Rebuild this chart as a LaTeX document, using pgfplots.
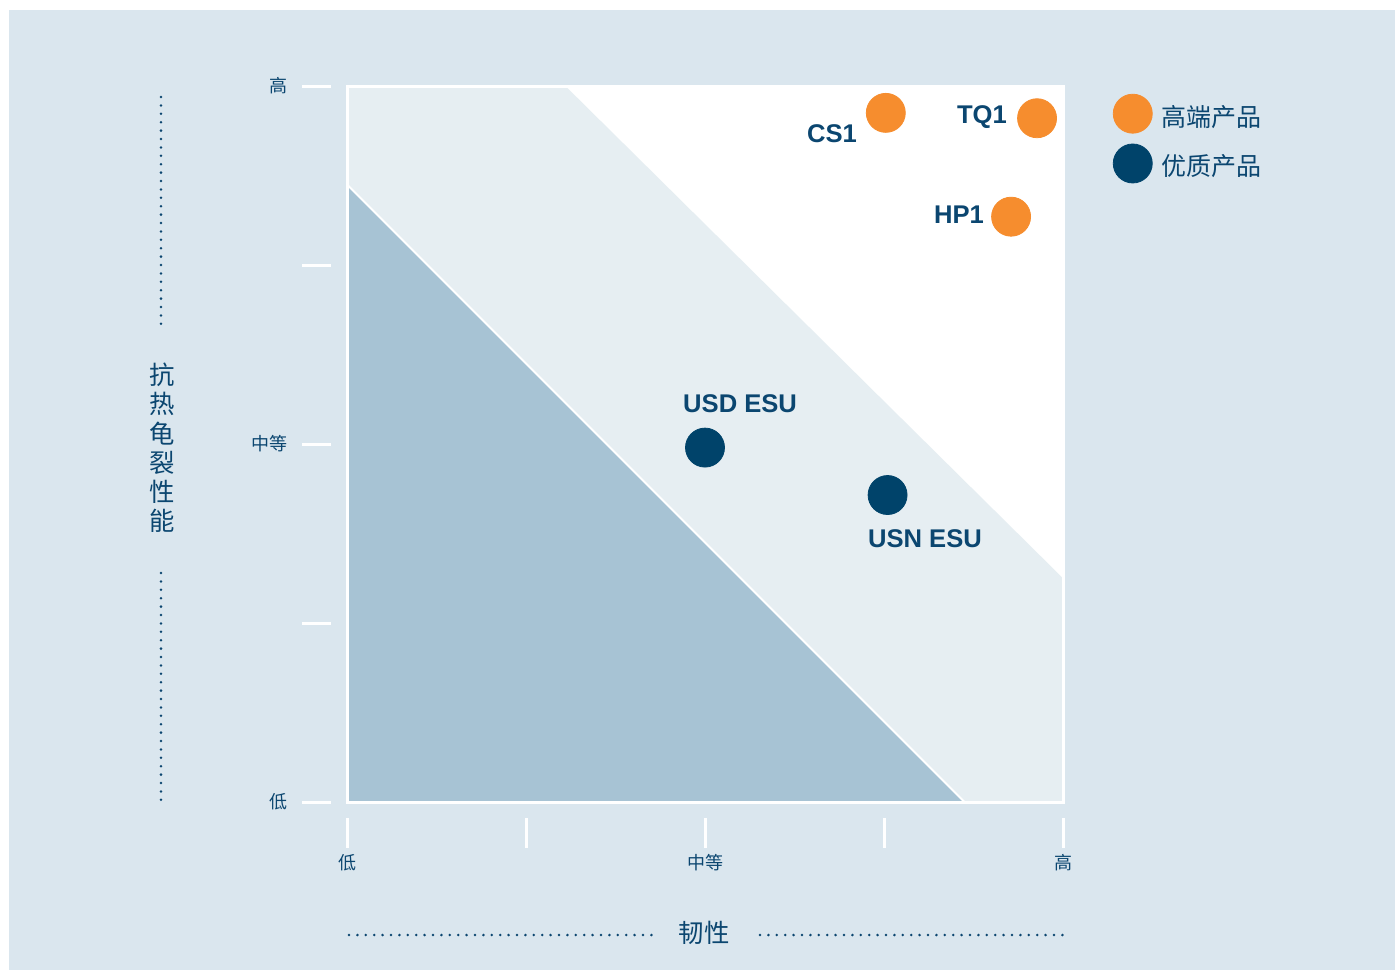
\documentclass[border=0pt]{standalone}
\usepackage{pgfplots}
\pgfplotsset{compat=1.18}
\usepackage{fontspec}
\setmainfont{Liberation Sans}
\newfontfamily\cjk{Noto Sans CJK SC}
\definecolor{bg}{HTML}{DAE6EE}
\definecolor{band}{HTML}{E6EEF2}
\definecolor{dark}{HTML}{A7C3D4}
\definecolor{navy}{HTML}{00436A}
\definecolor{orng}{HTML}{F68D2E}
\definecolor{txt}{HTML}{0B4670}
\begin{document}
\begin{tikzpicture}
\begin{scope}[x=0.5pt,y=-0.5pt]
\fill[white] (0,0) rectangle (1395,970);
\fill[bg] (9,10) rectangle (1395,970);
\begin{scope}[txt, line width=1.4pt, line cap=round, dash pattern=on 0pt off 4.2pt]
\draw (161,97) -- (161,327);
\draw (161,573) -- (161,802);
\draw (349,935) -- (655,935);
\draw (760,935) -- (1064,935);
\end{scope}
\node[txt, font=\cjk\fontsize{12.7}{14.6}\selectfont, align=center, inner sep=0pt] at (162,448) {抗\\热\\龟\\裂\\性\\能};
\node[txt, font=\cjk\fontsize{12.7}{14.6}\selectfont, inner sep=0pt] at (704,933) {韧性};
\end{scope}
\begin{axis}[at={(173.5pt,-401pt)}, anchor=south west, scale only axis,
  width=358pt, height=358pt, xmin=0, xmax=4, ymin=0, ymax=4,
  axis lines=none, clip=false,
  legend style={at={(1.0607,0.9953)}, anchor=north west, draw=none, fill=none,
    font=\cjk\fontsize{12.5}{14}\selectfont, text=txt, row sep=5pt,
    nodes={inner sep=0pt, inner xsep=4.5pt}},
  legend cell align=left]
% regions
\addplot[forget plot, fill=white, draw=none] coordinates {(0,0) (4,0) (4,4) (0,4)} -- cycle;
\addplot[forget plot, fill=band, draw=none] coordinates {(0,0) (4,0) (4,1.25) (1.22,4) (0,4)} -- cycle;
\addplot[forget plot, fill=dark, draw=none] coordinates {(0,0) (3.45,0) (0,3.45)} -- cycle;
\addplot[forget plot, white, line width=1pt] coordinates {(0,3.45) (3.45,0)};
\addplot[forget plot, white, line width=1.5pt] coordinates {(0,0) (4,0) (4,4) (0,4)} -- cycle;
% ticks
\pgfplotsinvokeforeach{0,1,2,3,4}{
  \draw[white, line width=1.5pt] ([yshift=-8pt]axis cs:#1,0) -- ([yshift=-23pt]axis cs:#1,0);
  \draw[white, line width=1.5pt] ([xshift=-8pt]axis cs:0,#1) -- ([xshift=-22.5pt]axis cs:0,#1);
}
\begin{scope}[every node/.style={txt, font=\cjk\fontsize{9}{10}\selectfont, inner sep=0pt}]
\node at ([yshift=-30.5pt]axis cs:0,0) {低};
\node at ([yshift=-30.5pt]axis cs:2,0) {中等};
\node at ([yshift=-30.5pt]axis cs:4,0) {高};
\node[anchor=east] at ([xshift=-29.5pt]axis cs:0,0) {低};
\node[anchor=east] at ([xshift=-29.5pt]axis cs:0,2) {中等};
\node[anchor=east] at ([xshift=-29.5pt]axis cs:0,4) {高};
\end{scope}
% data
\addplot[only marks, mark=*, mark size=9.75pt, orng, mark options={fill=orng, draw=none},
  legend image code/.code={\fill[orng] (9.75pt,1.75pt) circle (9.75pt);}]
  coordinates {(3.01,3.85) (3.855,3.82) (3.71,3.27)};
\addlegendentry{高端产品}
\addplot[only marks, mark=*, mark size=9.75pt, navy, mark options={fill=navy, draw=none},
  legend image code/.code={\fill[navy] (9.75pt,1.75pt) circle (9.75pt);}]
  coordinates {(2.0,1.98) (3.02,1.715)};
\addlegendentry{优质产品}
% labels
\begin{scope}[every node/.style={txt, font=\bfseries\fontsize{12.8}{14}\selectfont, inner sep=0pt}]
\node at (axis cs:2.709,3.732) {CS1};
\node at (axis cs:3.547,3.827) {TQ1};
\node at (axis cs:3.419,3.279) {HP1};
\node at (axis cs:2.196,2.223) {USD ESU};
\node at (axis cs:3.229,1.469) {USN ESU};
\end{scope}
\end{axis}
\pgfresetboundingbox
\path[use as bounding box] (0,0) rectangle (697.5pt,-485pt);
\end{tikzpicture}
\end{document}
